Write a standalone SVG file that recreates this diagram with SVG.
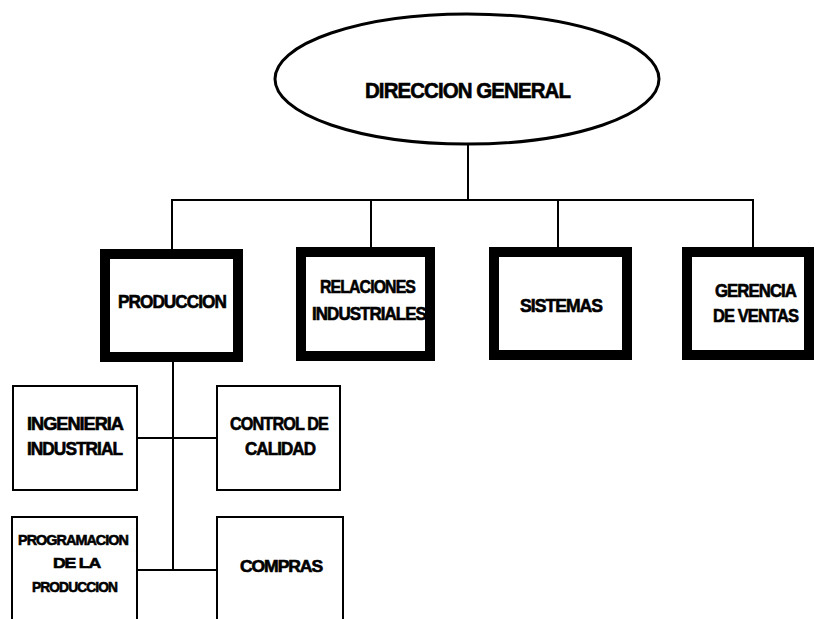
<svg xmlns="http://www.w3.org/2000/svg" width="818" height="619" viewBox="0 0 818 619">
<style>
.t{font-family:"Liberation Sans",Arial,sans-serif;font-weight:bold;fill:#000;stroke:#000;stroke-width:0.6;letter-spacing:-1px}
.thick{fill:#fff;stroke:#000;stroke-width:10}
.thin{fill:#fff;stroke:#000;stroke-width:2}
.ln{fill:none;stroke:#000;stroke-width:2}
</style>
<rect width="818" height="619" fill="#fff"/>
<g id="connectors">
<line class="ln" x1="468" y1="145" x2="468" y2="200"/>
<polyline class="ln" points="172,254 172,200 753,200 753,252"/>
<line class="ln" x1="371" y1="200" x2="371" y2="252"/>
<line class="ln" x1="558" y1="200" x2="558" y2="252"/>
<line class="ln" x1="173" y1="357" x2="173" y2="570"/>
<line class="ln" x1="137" y1="438" x2="217" y2="438"/>
<line class="ln" x1="137" y1="570" x2="217" y2="570"/>
</g>
<g id="direccion">
<ellipse cx="467" cy="79" rx="192" ry="65" fill="#fff" stroke="#000" stroke-width="3"/>
<text class="t" x="365" y="98" font-size="22" textLength="205" lengthAdjust="spacingAndGlyphs">DIRECCION GENERAL</text>
</g>
<g id="produccion">
<rect class="thick" x="105" y="254" width="133" height="103"/>
<text class="t" x="118" y="308" font-size="18" textLength="108" lengthAdjust="spacingAndGlyphs">PRODUCCION</text>
</g>
<g id="relaciones">
<rect class="thick" x="301" y="252" width="129" height="104"/>
<text class="t" x="320" y="293" font-size="18" textLength="95" lengthAdjust="spacingAndGlyphs">RELACIONES</text>
<text class="t" x="312" y="320" font-size="18" textLength="114" lengthAdjust="spacingAndGlyphs">INDUSTRIALES</text>
</g>
<g id="sistemas">
<rect class="thick" x="494" y="252" width="133" height="103"/>
<text class="t" x="520" y="312" font-size="18" textLength="82" lengthAdjust="spacingAndGlyphs">SISTEMAS</text>
</g>
<g id="gerencia">
<rect class="thick" x="687" y="252" width="122" height="103"/>
<text class="t" x="715" y="297" font-size="18" textLength="81" lengthAdjust="spacingAndGlyphs">GERENCIA</text>
<text class="t" x="713" y="322" font-size="18" textLength="85" lengthAdjust="spacingAndGlyphs">DE VENTAS</text>
</g>
<g id="ingenieria">
<rect class="thin" x="13" y="386" width="124" height="104"/>
<text class="t" x="27" y="430" font-size="18" textLength="96" lengthAdjust="spacingAndGlyphs">INGENIERIA</text>
<text class="t" x="27" y="455" font-size="18" textLength="95" lengthAdjust="spacingAndGlyphs">INDUSTRIAL</text>
</g>
<g id="control">
<rect class="thin" x="217" y="386" width="123" height="104"/>
<text class="t" x="230" y="430" font-size="18" textLength="98" lengthAdjust="spacingAndGlyphs">CONTROL DE</text>
<text class="t" x="245" y="455" font-size="18" textLength="70" lengthAdjust="spacingAndGlyphs">CALIDAD</text>
</g>
<g id="programacion">
<rect class="thin" x="12" y="517" width="125" height="110"/>
<text class="t" x="18" y="545" font-size="15" textLength="110" lengthAdjust="spacingAndGlyphs">PROGRAMACION</text>
<text class="t" x="53" y="568" font-size="15" textLength="47" lengthAdjust="spacingAndGlyphs">DE LA</text>
<text class="t" x="32" y="592" font-size="15" textLength="85" lengthAdjust="spacingAndGlyphs">PRODUCCION</text>
</g>
<g id="compras">
<rect class="thin" x="217" y="517" width="126" height="110"/>
<text class="t" x="240" y="572" font-size="16" textLength="82" lengthAdjust="spacingAndGlyphs">COMPRAS</text>
</g>
</svg>
